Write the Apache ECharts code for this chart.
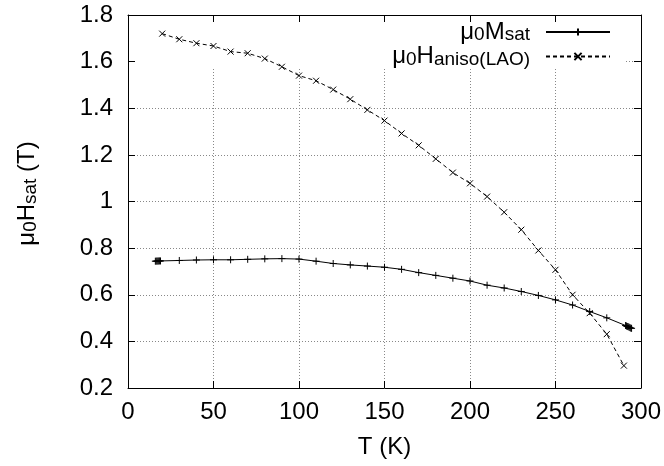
<!DOCTYPE html>
<html>
<head>
<meta charset="utf-8">
<script src="https://cdn.jsdelivr.net/npm/echarts@6/dist/echarts.min.js"></script>
<style>
html,body{margin:0;padding:0;background:#fff;}
#chart{width:664px;height:466px;}
</style>
</head>
<body>
<div id="chart"></div>
<script>
// ---- data ----
const mTemps = [16, 16.5, 17, 17.5, 18, 18.5, 19, 30, 40, 50, 60, 70, 80, 90, 100, 110, 120, 130, 140, 150, 160, 170, 180, 190, 200, 210, 220, 230, 240, 250, 260, 270, 280, 291, 291.5, 292, 292.5, 293, 293.5, 294, 294.5];
const mValues = [0.744, 0.744, 0.745, 0.744, 0.745, 0.745, 0.745, 0.747, 0.749, 0.750, 0.750, 0.752, 0.754, 0.755, 0.753, 0.744, 0.734, 0.728, 0.723, 0.718, 0.709, 0.695, 0.683, 0.671, 0.659, 0.641, 0.629, 0.614, 0.597, 0.578, 0.556, 0.528, 0.501, 0.468, 0.466, 0.464, 0.463, 0.461, 0.459, 0.457, 0.456];
const hTemps = [20, 30, 40, 50, 60, 70, 80, 90, 100, 110, 120, 130, 140, 150, 160, 170, 180, 190, 200, 210, 220, 230, 240, 250, 260, 270, 280, 290];
const hValues = [1.720, 1.696, 1.679, 1.667, 1.643, 1.636, 1.613, 1.578, 1.540, 1.518, 1.480, 1.439, 1.393, 1.347, 1.292, 1.241, 1.183, 1.124, 1.078, 1.021, 0.954, 0.879, 0.790, 0.707, 0.600, 0.521, 0.431, 0.296];
const xTicks = {min: 0, max: 300, interval: 50};
const yTicks = {min: 0.2, max: 1.8, interval: 0.2};
const seriesNames = ['μ0Msat', 'μ0Haniso(LAO)'];
const legendRich = {
  'μ0Msat': '{a|μ}{s|0}{a|M}{s|sat}',
  'μ0Haniso(LAO)': '{a|μ}{s|0}{a|H}{s|aniso(LAO)}'
};
const yName = '{w| }{a|μ}{s|0}{a|H}{s|sat}{a| (T)}';
const xName = 'T (K)';

// ---- styles ----
const FONT = "'Liberation Sans', Arial, Helvetica, sans-serif";
const FS = 24, SFS = 19;
const rich = {
  a: {fontSize: FS, fontFamily: FONT, color: '#000', lineHeight: 25, verticalAlign: 'middle'},
  s: {fontSize: SFS, fontFamily: FONT, color: '#000', lineHeight: 12, verticalAlign: 'bottom'},
  w: {fontSize: FS, fontFamily: FONT, width: 16, lineHeight: 25}
};
const plusSym = 'path://M0,5L10,5M5,0L5,10';
const crossSym = 'path://M0,0L10,10M10,0L0,10';

function pairs(xs, ys) { return xs.map((x, i) => [x, ys[i]]); }

const gridLine = {show: true, lineStyle: {color: '#888', width: 1, type: [1, 2]}};
const chart = echarts.init(document.getElementById('chart'), null, {renderer: 'canvas'});
chart.setOption({
  animation: false,
  backgroundColor: '#fff',
  grid: {left: 128, right: 23, top: 15, bottom: 78, containLabel: false},
  graphic: [{
    type: 'rect', z: 1, silent: true,
    shape: {x: 136, y: 23, width: 490, height: 46},
    style: {fill: '#fff'}
  }],
  legend: {
    orient: 'vertical', align: 'right', right: 53, top: 20, padding: 0,
    itemGap: 0, itemWidth: 64, itemHeight: 9,
    data: seriesNames,
    formatter: (n) => legendRich[n],
    textStyle: {fontSize: FS, fontFamily: FONT, color: '#000', padding: [0, 11, 0, 0], rich: rich}
  },
  xAxis: [{
    type: 'value', position: 'bottom', min: xTicks.min, max: xTicks.max, interval: xTicks.interval,
    name: xName, nameLocation: 'middle', nameGap: 47,
    nameTextStyle: {fontSize: FS, fontFamily: FONT, color: '#000'},
    axisLine: {show: true, onZero: false, lineStyle: {color: '#000', width: 1}},
    axisTick: {show: true, inside: true, length: 7, lineStyle: {color: '#000'}},
    axisLabel: {fontSize: FS, fontFamily: FONT, color: '#000', margin: 12},
    splitLine: gridLine
  }, {
    type: 'value', position: 'top', min: xTicks.min, max: xTicks.max, interval: xTicks.interval,
    axisLine: {show: true, onZero: false, lineStyle: {color: '#000', width: 1}},
    axisTick: {show: true, inside: true, length: 7, lineStyle: {color: '#000'}},
    axisLabel: {show: false}, splitLine: {show: false}
  }],
  yAxis: [{
    type: 'value', position: 'left', min: yTicks.min, max: yTicks.max, interval: yTicks.interval,
    name: yName, nameLocation: 'middle', nameGap: 88, nameRotate: 90,
    nameTextStyle: {fontSize: FS, fontFamily: FONT, color: '#000', rich: rich},
    axisLine: {show: true, onZero: false, lineStyle: {color: '#000', width: 1}},
    axisTick: {show: true, inside: true, length: 7, lineStyle: {color: '#000'}},
    axisLabel: {fontSize: FS, fontFamily: FONT, color: '#000', margin: 15,
      formatter: (v) => String(Math.round(v * 10) / 10)},
    splitLine: gridLine
  }, {
    type: 'value', position: 'right', min: yTicks.min, max: yTicks.max, interval: yTicks.interval,
    axisLine: {show: true, onZero: false, lineStyle: {color: '#000', width: 1}},
    axisTick: {show: true, inside: true, length: 7, lineStyle: {color: '#000'}},
    axisLabel: {show: false}, splitLine: {show: false}
  }],
  series: [{
    name: seriesNames[0], type: 'line', xAxisIndex: 0, yAxisIndex: 0, z: 3,
    data: pairs(mTemps, mValues),
    symbol: plusSym, symbolSize: 7, showAllSymbol: true,
    lineStyle: {color: '#000', width: 1},
    itemStyle: {color: '#000', borderColor: '#000', borderWidth: 1}
  }, {
    name: seriesNames[1], type: 'line', xAxisIndex: 0, yAxisIndex: 0, z: 3,
    data: pairs(hTemps, hValues),
    symbol: crossSym, symbolSize: 6, showAllSymbol: true,
    lineStyle: {color: '#000', width: 1, type: [4, 3]},
    itemStyle: {color: '#000', borderColor: '#000', borderWidth: 1}
  }]
});
</script>
</body>
</html>
